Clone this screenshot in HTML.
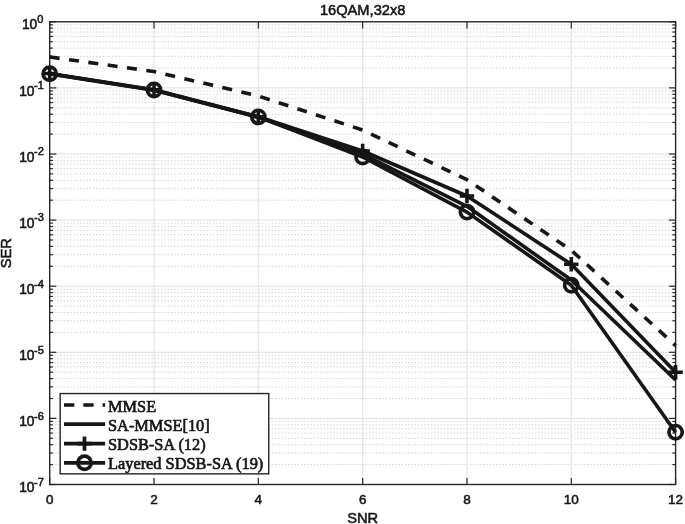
<!DOCTYPE html>
<html><head><meta charset="utf-8"><title>16QAM,32x8</title>
<style>html,body{margin:0;padding:0;background:#fff;}body{width:685px;height:524px;position:relative;overflow:hidden;}</style>
</head><body>
<svg width="685" height="524" viewBox="0 0 685 524" style="position:absolute;left:0;top:0;display:block">
<rect x="0" y="0" width="685" height="524" fill="#fff"/>
<g stroke="#cfcfcf" stroke-width="1" stroke-dasharray="1.3 1.95" stroke-dashoffset="-1" fill="none">
<line x1="49.70" x2="675.60" y1="68.00" y2="68.00"/>
<line x1="49.70" x2="675.60" y1="56.36" y2="56.36"/>
<line x1="49.70" x2="675.60" y1="48.10" y2="48.10"/>
<line x1="49.70" x2="675.60" y1="41.70" y2="41.70"/>
<line x1="49.70" x2="675.60" y1="36.46" y2="36.46"/>
<line x1="49.70" x2="675.60" y1="32.04" y2="32.04"/>
<line x1="49.70" x2="675.60" y1="28.21" y2="28.21"/>
<line x1="49.70" x2="675.60" y1="24.82" y2="24.82"/>
<line x1="49.70" x2="675.60" y1="134.10" y2="134.10"/>
<line x1="49.70" x2="675.60" y1="122.46" y2="122.46"/>
<line x1="49.70" x2="675.60" y1="114.20" y2="114.20"/>
<line x1="49.70" x2="675.60" y1="107.80" y2="107.80"/>
<line x1="49.70" x2="675.60" y1="102.56" y2="102.56"/>
<line x1="49.70" x2="675.60" y1="98.14" y2="98.14"/>
<line x1="49.70" x2="675.60" y1="94.31" y2="94.31"/>
<line x1="49.70" x2="675.60" y1="90.92" y2="90.92"/>
<line x1="49.70" x2="675.60" y1="200.20" y2="200.20"/>
<line x1="49.70" x2="675.60" y1="188.56" y2="188.56"/>
<line x1="49.70" x2="675.60" y1="180.30" y2="180.30"/>
<line x1="49.70" x2="675.60" y1="173.90" y2="173.90"/>
<line x1="49.70" x2="675.60" y1="168.66" y2="168.66"/>
<line x1="49.70" x2="675.60" y1="164.24" y2="164.24"/>
<line x1="49.70" x2="675.60" y1="160.41" y2="160.41"/>
<line x1="49.70" x2="675.60" y1="157.02" y2="157.02"/>
<line x1="49.70" x2="675.60" y1="266.30" y2="266.30"/>
<line x1="49.70" x2="675.60" y1="254.66" y2="254.66"/>
<line x1="49.70" x2="675.60" y1="246.40" y2="246.40"/>
<line x1="49.70" x2="675.60" y1="240.00" y2="240.00"/>
<line x1="49.70" x2="675.60" y1="234.76" y2="234.76"/>
<line x1="49.70" x2="675.60" y1="230.34" y2="230.34"/>
<line x1="49.70" x2="675.60" y1="226.51" y2="226.51"/>
<line x1="49.70" x2="675.60" y1="223.12" y2="223.12"/>
<line x1="49.70" x2="675.60" y1="332.40" y2="332.40"/>
<line x1="49.70" x2="675.60" y1="320.76" y2="320.76"/>
<line x1="49.70" x2="675.60" y1="312.50" y2="312.50"/>
<line x1="49.70" x2="675.60" y1="306.10" y2="306.10"/>
<line x1="49.70" x2="675.60" y1="300.86" y2="300.86"/>
<line x1="49.70" x2="675.60" y1="296.44" y2="296.44"/>
<line x1="49.70" x2="675.60" y1="292.61" y2="292.61"/>
<line x1="49.70" x2="675.60" y1="289.22" y2="289.22"/>
<line x1="49.70" x2="675.60" y1="398.50" y2="398.50"/>
<line x1="49.70" x2="675.60" y1="386.86" y2="386.86"/>
<line x1="49.70" x2="675.60" y1="378.60" y2="378.60"/>
<line x1="49.70" x2="675.60" y1="372.20" y2="372.20"/>
<line x1="49.70" x2="675.60" y1="366.96" y2="366.96"/>
<line x1="49.70" x2="675.60" y1="362.54" y2="362.54"/>
<line x1="49.70" x2="675.60" y1="358.71" y2="358.71"/>
<line x1="49.70" x2="675.60" y1="355.32" y2="355.32"/>
<line x1="49.70" x2="675.60" y1="464.60" y2="464.60"/>
<line x1="49.70" x2="675.60" y1="452.96" y2="452.96"/>
<line x1="49.70" x2="675.60" y1="444.70" y2="444.70"/>
<line x1="49.70" x2="675.60" y1="438.30" y2="438.30"/>
<line x1="49.70" x2="675.60" y1="433.06" y2="433.06"/>
<line x1="49.70" x2="675.60" y1="428.64" y2="428.64"/>
<line x1="49.70" x2="675.60" y1="424.81" y2="424.81"/>
<line x1="49.70" x2="675.60" y1="421.42" y2="421.42"/>
</g>
<g stroke="#e0e0e0" stroke-width="1.0" fill="none">
<line x1="49.70" x2="675.60" y1="87.90" y2="87.90"/>
<line x1="49.70" x2="675.60" y1="154.00" y2="154.00"/>
<line x1="49.70" x2="675.60" y1="220.10" y2="220.10"/>
<line x1="49.70" x2="675.60" y1="286.20" y2="286.20"/>
<line x1="49.70" x2="675.60" y1="352.30" y2="352.30"/>
<line x1="49.70" x2="675.60" y1="418.40" y2="418.40"/>
<line x1="154.02" x2="154.02" y1="21.80" y2="484.50"/>
<line x1="258.33" x2="258.33" y1="21.80" y2="484.50"/>
<line x1="362.65" x2="362.65" y1="21.80" y2="484.50"/>
<line x1="466.97" x2="466.97" y1="21.80" y2="484.50"/>
<line x1="571.28" x2="571.28" y1="21.80" y2="484.50"/>
</g>
<g stroke="#262626" stroke-width="1.2" fill="none">
<line x1="49.70" x2="56.30" y1="21.80" y2="21.80"/>
<line x1="675.60" x2="669.00" y1="21.80" y2="21.80"/>
<line x1="49.70" x2="56.30" y1="87.90" y2="87.90"/>
<line x1="675.60" x2="669.00" y1="87.90" y2="87.90"/>
<line x1="49.70" x2="56.30" y1="154.00" y2="154.00"/>
<line x1="675.60" x2="669.00" y1="154.00" y2="154.00"/>
<line x1="49.70" x2="56.30" y1="220.10" y2="220.10"/>
<line x1="675.60" x2="669.00" y1="220.10" y2="220.10"/>
<line x1="49.70" x2="56.30" y1="286.20" y2="286.20"/>
<line x1="675.60" x2="669.00" y1="286.20" y2="286.20"/>
<line x1="49.70" x2="56.30" y1="352.30" y2="352.30"/>
<line x1="675.60" x2="669.00" y1="352.30" y2="352.30"/>
<line x1="49.70" x2="56.30" y1="418.40" y2="418.40"/>
<line x1="675.60" x2="669.00" y1="418.40" y2="418.40"/>
<line x1="49.70" x2="56.30" y1="484.50" y2="484.50"/>
<line x1="675.60" x2="669.00" y1="484.50" y2="484.50"/>
<line x1="49.70" x2="52.90" y1="68.00" y2="68.00"/>
<line x1="675.60" x2="672.40" y1="68.00" y2="68.00"/>
<line x1="49.70" x2="52.90" y1="56.36" y2="56.36"/>
<line x1="675.60" x2="672.40" y1="56.36" y2="56.36"/>
<line x1="49.70" x2="52.90" y1="48.10" y2="48.10"/>
<line x1="675.60" x2="672.40" y1="48.10" y2="48.10"/>
<line x1="49.70" x2="52.90" y1="41.70" y2="41.70"/>
<line x1="675.60" x2="672.40" y1="41.70" y2="41.70"/>
<line x1="49.70" x2="52.90" y1="36.46" y2="36.46"/>
<line x1="675.60" x2="672.40" y1="36.46" y2="36.46"/>
<line x1="49.70" x2="52.90" y1="32.04" y2="32.04"/>
<line x1="675.60" x2="672.40" y1="32.04" y2="32.04"/>
<line x1="49.70" x2="52.90" y1="28.21" y2="28.21"/>
<line x1="675.60" x2="672.40" y1="28.21" y2="28.21"/>
<line x1="49.70" x2="52.90" y1="24.82" y2="24.82"/>
<line x1="675.60" x2="672.40" y1="24.82" y2="24.82"/>
<line x1="49.70" x2="52.90" y1="134.10" y2="134.10"/>
<line x1="675.60" x2="672.40" y1="134.10" y2="134.10"/>
<line x1="49.70" x2="52.90" y1="122.46" y2="122.46"/>
<line x1="675.60" x2="672.40" y1="122.46" y2="122.46"/>
<line x1="49.70" x2="52.90" y1="114.20" y2="114.20"/>
<line x1="675.60" x2="672.40" y1="114.20" y2="114.20"/>
<line x1="49.70" x2="52.90" y1="107.80" y2="107.80"/>
<line x1="675.60" x2="672.40" y1="107.80" y2="107.80"/>
<line x1="49.70" x2="52.90" y1="102.56" y2="102.56"/>
<line x1="675.60" x2="672.40" y1="102.56" y2="102.56"/>
<line x1="49.70" x2="52.90" y1="98.14" y2="98.14"/>
<line x1="675.60" x2="672.40" y1="98.14" y2="98.14"/>
<line x1="49.70" x2="52.90" y1="94.31" y2="94.31"/>
<line x1="675.60" x2="672.40" y1="94.31" y2="94.31"/>
<line x1="49.70" x2="52.90" y1="90.92" y2="90.92"/>
<line x1="675.60" x2="672.40" y1="90.92" y2="90.92"/>
<line x1="49.70" x2="52.90" y1="200.20" y2="200.20"/>
<line x1="675.60" x2="672.40" y1="200.20" y2="200.20"/>
<line x1="49.70" x2="52.90" y1="188.56" y2="188.56"/>
<line x1="675.60" x2="672.40" y1="188.56" y2="188.56"/>
<line x1="49.70" x2="52.90" y1="180.30" y2="180.30"/>
<line x1="675.60" x2="672.40" y1="180.30" y2="180.30"/>
<line x1="49.70" x2="52.90" y1="173.90" y2="173.90"/>
<line x1="675.60" x2="672.40" y1="173.90" y2="173.90"/>
<line x1="49.70" x2="52.90" y1="168.66" y2="168.66"/>
<line x1="675.60" x2="672.40" y1="168.66" y2="168.66"/>
<line x1="49.70" x2="52.90" y1="164.24" y2="164.24"/>
<line x1="675.60" x2="672.40" y1="164.24" y2="164.24"/>
<line x1="49.70" x2="52.90" y1="160.41" y2="160.41"/>
<line x1="675.60" x2="672.40" y1="160.41" y2="160.41"/>
<line x1="49.70" x2="52.90" y1="157.02" y2="157.02"/>
<line x1="675.60" x2="672.40" y1="157.02" y2="157.02"/>
<line x1="49.70" x2="52.90" y1="266.30" y2="266.30"/>
<line x1="675.60" x2="672.40" y1="266.30" y2="266.30"/>
<line x1="49.70" x2="52.90" y1="254.66" y2="254.66"/>
<line x1="675.60" x2="672.40" y1="254.66" y2="254.66"/>
<line x1="49.70" x2="52.90" y1="246.40" y2="246.40"/>
<line x1="675.60" x2="672.40" y1="246.40" y2="246.40"/>
<line x1="49.70" x2="52.90" y1="240.00" y2="240.00"/>
<line x1="675.60" x2="672.40" y1="240.00" y2="240.00"/>
<line x1="49.70" x2="52.90" y1="234.76" y2="234.76"/>
<line x1="675.60" x2="672.40" y1="234.76" y2="234.76"/>
<line x1="49.70" x2="52.90" y1="230.34" y2="230.34"/>
<line x1="675.60" x2="672.40" y1="230.34" y2="230.34"/>
<line x1="49.70" x2="52.90" y1="226.51" y2="226.51"/>
<line x1="675.60" x2="672.40" y1="226.51" y2="226.51"/>
<line x1="49.70" x2="52.90" y1="223.12" y2="223.12"/>
<line x1="675.60" x2="672.40" y1="223.12" y2="223.12"/>
<line x1="49.70" x2="52.90" y1="332.40" y2="332.40"/>
<line x1="675.60" x2="672.40" y1="332.40" y2="332.40"/>
<line x1="49.70" x2="52.90" y1="320.76" y2="320.76"/>
<line x1="675.60" x2="672.40" y1="320.76" y2="320.76"/>
<line x1="49.70" x2="52.90" y1="312.50" y2="312.50"/>
<line x1="675.60" x2="672.40" y1="312.50" y2="312.50"/>
<line x1="49.70" x2="52.90" y1="306.10" y2="306.10"/>
<line x1="675.60" x2="672.40" y1="306.10" y2="306.10"/>
<line x1="49.70" x2="52.90" y1="300.86" y2="300.86"/>
<line x1="675.60" x2="672.40" y1="300.86" y2="300.86"/>
<line x1="49.70" x2="52.90" y1="296.44" y2="296.44"/>
<line x1="675.60" x2="672.40" y1="296.44" y2="296.44"/>
<line x1="49.70" x2="52.90" y1="292.61" y2="292.61"/>
<line x1="675.60" x2="672.40" y1="292.61" y2="292.61"/>
<line x1="49.70" x2="52.90" y1="289.22" y2="289.22"/>
<line x1="675.60" x2="672.40" y1="289.22" y2="289.22"/>
<line x1="49.70" x2="52.90" y1="398.50" y2="398.50"/>
<line x1="675.60" x2="672.40" y1="398.50" y2="398.50"/>
<line x1="49.70" x2="52.90" y1="386.86" y2="386.86"/>
<line x1="675.60" x2="672.40" y1="386.86" y2="386.86"/>
<line x1="49.70" x2="52.90" y1="378.60" y2="378.60"/>
<line x1="675.60" x2="672.40" y1="378.60" y2="378.60"/>
<line x1="49.70" x2="52.90" y1="372.20" y2="372.20"/>
<line x1="675.60" x2="672.40" y1="372.20" y2="372.20"/>
<line x1="49.70" x2="52.90" y1="366.96" y2="366.96"/>
<line x1="675.60" x2="672.40" y1="366.96" y2="366.96"/>
<line x1="49.70" x2="52.90" y1="362.54" y2="362.54"/>
<line x1="675.60" x2="672.40" y1="362.54" y2="362.54"/>
<line x1="49.70" x2="52.90" y1="358.71" y2="358.71"/>
<line x1="675.60" x2="672.40" y1="358.71" y2="358.71"/>
<line x1="49.70" x2="52.90" y1="355.32" y2="355.32"/>
<line x1="675.60" x2="672.40" y1="355.32" y2="355.32"/>
<line x1="49.70" x2="52.90" y1="464.60" y2="464.60"/>
<line x1="675.60" x2="672.40" y1="464.60" y2="464.60"/>
<line x1="49.70" x2="52.90" y1="452.96" y2="452.96"/>
<line x1="675.60" x2="672.40" y1="452.96" y2="452.96"/>
<line x1="49.70" x2="52.90" y1="444.70" y2="444.70"/>
<line x1="675.60" x2="672.40" y1="444.70" y2="444.70"/>
<line x1="49.70" x2="52.90" y1="438.30" y2="438.30"/>
<line x1="675.60" x2="672.40" y1="438.30" y2="438.30"/>
<line x1="49.70" x2="52.90" y1="433.06" y2="433.06"/>
<line x1="675.60" x2="672.40" y1="433.06" y2="433.06"/>
<line x1="49.70" x2="52.90" y1="428.64" y2="428.64"/>
<line x1="675.60" x2="672.40" y1="428.64" y2="428.64"/>
<line x1="49.70" x2="52.90" y1="424.81" y2="424.81"/>
<line x1="675.60" x2="672.40" y1="424.81" y2="424.81"/>
<line x1="49.70" x2="52.90" y1="421.42" y2="421.42"/>
<line x1="675.60" x2="672.40" y1="421.42" y2="421.42"/>
<line x1="49.70" x2="49.70" y1="484.50" y2="477.90"/>
<line x1="49.70" x2="49.70" y1="21.80" y2="28.40"/>
<line x1="154.02" x2="154.02" y1="484.50" y2="477.90"/>
<line x1="154.02" x2="154.02" y1="21.80" y2="28.40"/>
<line x1="258.33" x2="258.33" y1="484.50" y2="477.90"/>
<line x1="258.33" x2="258.33" y1="21.80" y2="28.40"/>
<line x1="362.65" x2="362.65" y1="484.50" y2="477.90"/>
<line x1="362.65" x2="362.65" y1="21.80" y2="28.40"/>
<line x1="466.97" x2="466.97" y1="484.50" y2="477.90"/>
<line x1="466.97" x2="466.97" y1="21.80" y2="28.40"/>
<line x1="571.28" x2="571.28" y1="484.50" y2="477.90"/>
<line x1="571.28" x2="571.28" y1="21.80" y2="28.40"/>
<line x1="675.60" x2="675.60" y1="484.50" y2="477.90"/>
<line x1="675.60" x2="675.60" y1="21.80" y2="28.40"/>
</g>
<rect x="49.70" y="21.80" width="625.90" height="462.70" fill="none" stroke="#262626" stroke-width="1.4"/>
<g fill="none" stroke="#161616" stroke-linejoin="round">
<polyline points="49.70,57.00 154.02,71.50 258.33,96.00 362.65,130.00 466.97,179.70 571.28,250.30 675.60,345.60" stroke-width="3.6" stroke-dasharray="10 9.5"/>
<polyline points="49.70,73.90 154.02,90.20 258.33,117.20 362.65,154.20 466.97,206.30 571.28,280.00 675.60,380.00" stroke-width="3.6"/>
<polyline points="49.70,73.50 154.02,89.80 258.33,116.75 362.65,151.00 466.97,196.00 571.28,264.30 675.60,372.30" stroke-width="3.6"/>
<polyline points="49.70,73.70 154.02,89.95 258.33,116.90 362.65,157.00 466.97,212.10 571.28,285.20 675.60,432.20" stroke-width="3.6"/>
<path d="M42.50 73.50H56.90M49.70 66.30V80.70" stroke-width="3.6"/>
<path d="M146.82 89.80H161.22M154.02 82.60V97.00" stroke-width="3.6"/>
<path d="M251.13 116.75H265.53M258.33 109.55V123.95" stroke-width="3.6"/>
<path d="M355.45 151.00H369.85M362.65 143.80V158.20" stroke-width="3.6"/>
<path d="M459.77 196.00H474.17M466.97 188.80V203.20" stroke-width="3.6"/>
<path d="M564.08 264.30H578.48M571.28 257.10V271.50" stroke-width="3.6"/>
<path d="M668.40 372.30H682.80M675.60 365.10V379.50" stroke-width="3.6"/>
<circle cx="49.70" cy="73.70" r="6.65" stroke-width="3.6"/>
<circle cx="154.02" cy="89.95" r="6.65" stroke-width="3.6"/>
<circle cx="258.33" cy="116.90" r="6.65" stroke-width="3.6"/>
<circle cx="362.65" cy="157.00" r="6.65" stroke-width="3.6"/>
<circle cx="466.97" cy="212.10" r="6.65" stroke-width="3.6"/>
<circle cx="571.28" cy="285.20" r="6.65" stroke-width="3.6"/>
<circle cx="675.60" cy="432.20" r="6.65" stroke-width="3.6"/>
</g>
<rect x="60.15" y="393.55" width="208.6" height="80.3" fill="#fff" stroke="#262626" stroke-width="1.4"/>
<g fill="none" stroke="#161616">
<line x1="64.0" x2="105.1" y1="405.0" y2="405.0" stroke-width="3.7" stroke-dasharray="10.3 9.0"/>
<line x1="64.0" x2="105.1" y1="424.2" y2="424.2" stroke-width="3.7"/>
<line x1="64.0" x2="105.1" y1="443.6" y2="443.6" stroke-width="3.7"/>
<line x1="64.0" x2="105.1" y1="462.8" y2="462.8" stroke-width="3.7"/>
<path d="M77.30 443.60H91.70M84.50 436.40V450.80" stroke-width="3.7"/>
<circle cx="84.50" cy="462.80" r="6.65" stroke-width="3.7"/>
</g>
<g fill="#161616" stroke="#161616" stroke-width="0.65" font-family="Liberation Serif, Times New Roman, serif" font-size="16.35">
<text x="108.0" y="411.60">MMSE</text>
<text x="108.0" y="430.80">SA-MMSE[10]</text>
<text x="108.0" y="450.20">SDSB-SA (12)</text>
<text x="108.0" y="469.40">Layered SDSB-SA (19)</text>
</g>
<g fill="#161616" stroke="#161616" stroke-width="0.55" font-family="Liberation Sans, Arial, sans-serif">
<text x="362.65" y="15.0" font-size="14.67" text-anchor="middle">16QAM,32x8</text>
<text x="362.65" y="523.2" font-size="14.67" text-anchor="middle">SNR</text>
<text transform="translate(11.0 253.15) rotate(-90)" font-size="14.67" text-anchor="middle">SER</text>
<text x="49.70" y="504.1" font-size="13.5" text-anchor="middle">0</text>
<text x="154.02" y="504.1" font-size="13.5" text-anchor="middle">2</text>
<text x="258.33" y="504.1" font-size="13.5" text-anchor="middle">4</text>
<text x="362.65" y="504.1" font-size="13.5" text-anchor="middle">6</text>
<text x="466.97" y="504.1" font-size="13.5" text-anchor="middle">8</text>
<text x="571.28" y="504.1" font-size="13.5" text-anchor="middle">10</text>
<text x="675.60" y="504.1" font-size="13.5" text-anchor="middle">12</text>
<text x="43.4" y="22.60" font-size="11.0" text-anchor="end">0</text>
<text x="37.3" y="28.50" font-size="13.8" text-anchor="end">10</text>
<text x="43.8" y="89.20" font-size="11.0" text-anchor="end">-1</text>
<text x="34.5" y="95.60" font-size="13.8" text-anchor="end">10</text>
<text x="43.8" y="155.30" font-size="11.0" text-anchor="end">-2</text>
<text x="34.5" y="161.70" font-size="13.8" text-anchor="end">10</text>
<text x="43.8" y="221.40" font-size="11.0" text-anchor="end">-3</text>
<text x="34.5" y="227.80" font-size="13.8" text-anchor="end">10</text>
<text x="43.8" y="287.50" font-size="11.0" text-anchor="end">-4</text>
<text x="34.5" y="293.90" font-size="13.8" text-anchor="end">10</text>
<text x="43.8" y="353.60" font-size="11.0" text-anchor="end">-5</text>
<text x="34.5" y="360.00" font-size="13.8" text-anchor="end">10</text>
<text x="43.8" y="419.70" font-size="11.0" text-anchor="end">-6</text>
<text x="34.5" y="426.10" font-size="13.8" text-anchor="end">10</text>
<text x="43.8" y="485.80" font-size="11.0" text-anchor="end">-7</text>
<text x="34.5" y="492.20" font-size="13.8" text-anchor="end">10</text>
</g>
</svg>
</body></html>
